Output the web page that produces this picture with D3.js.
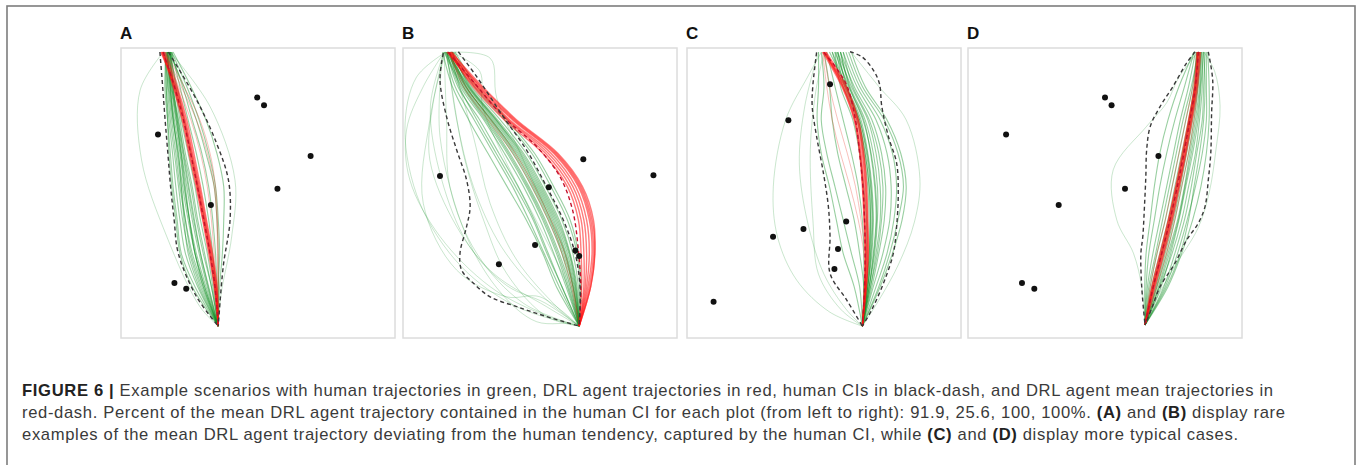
<!DOCTYPE html>
<html>
<head>
<meta charset="utf-8">
<script src="https://cdn.jsdelivr.net/npm/d3@7"></script>
<style>
  html, body { margin: 0; padding: 0; background: #fff; }
  svg { display: block; }
</style>
</head>
<body>
<div id="chart"></div>
<script>
// ---- data (panel coordinates: 0..100 across, 0..100 top to bottom) ----
const panelLabels = ["A", "B", "C", "D"];
const levels = [13.3, 24.8, 36.3, 47.8, 59.3, 70.8, 82.3];   // rows used by the trajectory tables
const startY = 1.4;

const goalA = [35.5, 95.9];
const goalB = [64.3, 95.9];
const goalC = [64.0, 95.9];
const goalD = [64.6, 95.5];

const obstaclesA = [[49.7, 17.1], [52.2, 19.7], [13.5, 29.8], [69.2, 37.2], [57.1, 48.5], [32.8, 54.1], [19.5, 81.0], [23.8, 83.0]];
const obstaclesB = [[13.5, 44.1], [65.8, 38.4], [91.4, 43.9], [53.2, 48.0], [48.2, 67.9], [35.0, 74.6], [62.9, 69.8], [64.3, 71.7]];
const obstaclesC = [[52.2, 12.5], [37.0, 24.9], [58.1, 59.8], [42.5, 62.4], [31.4, 65.1], [55.1, 69.3], [53.8, 76.2], [9.7, 87.5]];
const obstaclesD = [[50.0, 17.1], [52.4, 19.7], [13.9, 29.8], [69.5, 37.2], [57.3, 48.5], [33.1, 54.1], [19.7, 81.0], [24.2, 83.0]];

// human trajectories: [start x, x at each level]
const humanA = [
  [16.5, 16.0, 17.0, 18.0, 19.0, 20.5, 22.0, 27.0],
  [17.0, 16.5, 17.5, 18.8, 20.0, 21.5, 23.5, 28.0],
  [17.5, 17.0, 18.0, 19.5, 21.0, 22.5, 25.0, 29.0],
  [16.0, 17.2, 18.5, 20.0, 21.5, 23.5, 26.0, 30.0],
  [17.0, 17.5, 19.0, 20.8, 22.5, 24.5, 27.0, 30.5],
  [18.0, 18.0, 19.5, 21.5, 23.0, 25.0, 27.5, 31.0],
  [16.5, 18.2, 20.0, 22.0, 24.0, 26.0, 28.5, 31.5],
  [17.5, 18.5, 20.5, 22.5, 24.5, 26.5, 29.0, 32.0],
  [18.5, 19.0, 21.0, 23.0, 25.5, 27.5, 30.0, 33.0],
  [17.0, 19.5, 21.5, 23.5, 26.0, 28.0, 30.5, 33.0],
  [18.0, 20.0, 22.0, 24.5, 27.0, 29.0, 31.5, 33.5],
  [17.5, 20.5, 23.0, 25.5, 28.0, 30.5, 32.5, 34.0],
  [18.5, 21.5, 24.5, 27.5, 30.0, 32.0, 33.5, 34.5],
  [18.0, 22.5, 26.0, 29.5, 32.0, 33.5, 34.5, 35.0],
  [18.5, 24.0, 28.5, 32.0, 34.5, 35.5, 36.0, 35.5],
  [17.0, 18.0, 19.0, 21.0, 22.0, 23.0, 24.5, 28.5],
  [16.0, 16.5, 17.0, 17.5, 18.5, 20.0, 21.5, 26.0],
  [18.0, 19.0, 20.5, 22.0, 23.5, 25.0, 27.0, 30.0],
  [17.5, 23.0, 27.5, 31.0, 34.0, 35.0, 35.5, 35.5],
  [19.0, 25.5, 31.0, 35.0, 37.5, 37.5, 37.0, 36.0],
  [17.0, 17.8, 19.2, 20.5, 22.0, 23.5, 25.5, 29.5],
  [16.5, 18.5, 20.2, 21.8, 23.2, 25.0, 27.0, 30.5],
  [17.8, 18.8, 20.8, 22.8, 24.8, 26.8, 29.0, 31.8]
];
const humanStrayA = [
  [[15.5, 1.4], [7.0, 14.5], [7.5, 38.6], [16.7, 65.0], [28.8, 89.2], [35.5, 95.9]],
  [[18.0, 1.4], [32.5, 20.2], [41.6, 45.5], [40.4, 65.0], [36.5, 85.0], [35.5, 95.9]]
];
const agentA = [
  [15.0, 19.0, 22.3, 24.8, 27.4, 29.8, 32.0, 34.0],
  [15.5, 19.3, 22.6, 25.1, 27.7, 30.0, 32.3, 34.2],
  [14.5, 19.6, 22.9, 25.5, 28.0, 30.3, 32.6, 34.4],
  [15.2, 19.8, 23.2, 25.8, 28.3, 30.6, 32.9, 34.6],
  [14.8, 20.1, 23.5, 26.1, 28.6, 30.9, 33.1, 34.8],
  [15.8, 20.5, 24.0, 26.6, 29.0, 31.2, 33.4, 35.0]
];
const agentStrayA = [
  [16.0, 22.0, 27.5, 31.5, 34.0, 35.0, 35.2, 35.3],
  [16.5, 23.0, 28.8, 32.5, 34.5, 35.2, 35.5, 35.5],
  [16.2, 21.0, 25.5, 29.0, 31.5, 33.0, 34.0, 35.0]
];
const meanA = [[15.4, 1.4], [19.5, 13.3], [22.8, 24.8], [25.4, 36.3], [27.9, 47.8], [30.2, 59.3], [32.5, 70.8], [34.3, 82.3], [35.5, 95.9]];
const ciLeftA = [[14.2, 1.4], [15.2, 13.3], [16.1, 24.8], [17.1, 36.3], [18.1, 47.8], [19.4, 59.3], [20.9, 70.8], [27.6, 85.8], [35.5, 95.9]];
const ciRightA = [[17.3, 1.4], [27.6, 17.9], [34.9, 32.9], [39.2, 45.5], [39.8, 59.3], [37.3, 75.4], [35.5, 95.9]];

const humanB = [
  [16.0, 20.0, 28.0, 35.0, 42.0, 48.0, 53.0, 58.0],
  [17.0, 21.0, 29.5, 37.0, 44.0, 50.0, 55.0, 59.5],
  [15.5, 22.0, 31.0, 39.0, 46.0, 52.0, 57.0, 61.0],
  [18.0, 23.0, 32.5, 41.0, 48.0, 54.0, 59.0, 62.0],
  [16.5, 24.0, 34.0, 43.0, 50.0, 56.0, 60.5, 63.0],
  [17.5, 25.0, 35.5, 45.0, 52.0, 58.0, 62.0, 64.0],
  [18.5, 26.0, 37.0, 47.0, 54.0, 60.0, 63.5, 64.5],
  [15.0, 21.5, 30.0, 38.0, 45.0, 51.0, 56.0, 60.0],
  [17.0, 22.5, 31.5, 40.0, 47.0, 53.0, 58.0, 61.5],
  [16.0, 23.5, 33.0, 42.0, 49.0, 55.0, 59.5, 62.5],
  [18.0, 24.5, 34.5, 44.0, 51.0, 57.0, 61.0, 63.5],
  [15.5, 19.0, 26.0, 33.0, 40.0, 46.0, 51.5, 57.0],
  [14.5, 18.0, 24.0, 31.0, 38.0, 45.0, 51.0, 56.0],
  [19.0, 27.0, 38.0, 48.0, 55.0, 61.0, 64.0, 65.0],
  [16.0, 20.5, 27.0, 34.0, 41.0, 47.5, 52.5, 58.0],
  [17.0, 22.0, 30.5, 38.5, 45.5, 51.5, 56.5, 60.5],
  [17.0, 23.0, 32.0, 40.5, 47.5, 53.5, 58.5, 62.0],
  [16.5, 23.8, 33.5, 42.5, 49.5, 55.5, 60.0, 62.8],
  [18.0, 24.2, 34.0, 43.5, 50.5, 56.5, 60.8, 63.2],
  [16.0, 22.8, 32.2, 41.5, 48.5, 54.5, 59.2, 62.2]
];
const humanStrayB = [
  [[15.0, 1.5], [7.4, 13.3], [1.3, 28.2], [2.5, 45.5], [13.5, 65.0], [31.8, 82.3], [50.0, 91.5], [64.3, 95.9]],
  [[15.5, 1.5], [11.0, 19.0], [9.8, 38.6], [19.6, 61.6], [33.0, 77.7], [52.4, 89.2], [64.3, 95.9]],
  [[17.0, 1.5], [31.8, 3.5], [34.2, 17.2], [43.9, 38.6], [56.1, 65.0], [64.3, 95.9]],
  [[15.0, 1.5], [15.9, 24.8], [17.1, 47.8], [26.9, 70.8], [43.9, 88.0], [64.3, 95.9]],
  [[16.0, 1.5], [22.0, 36.3], [29.4, 59.3], [37.8, 77.7], [52.4, 92.6], [64.3, 95.9]],
  [[14.5, 1.5], [13.5, 30.5], [23.2, 65.0], [35.9, 84.6], [48.8, 94.4], [63.0, 95.0], [64.3, 95.9]],
  [[17.0, 1.5], [25.7, 30.5], [31.8, 53.6], [41.5, 73.1], [56.1, 89.2], [64.3, 95.9]],
  [[15.0, 1.5], [9.8, 24.8], [7.4, 53.6], [19.6, 76.6], [37.8, 85.8], [50.0, 85.8], [64.3, 95.9]],
  [[16.0, 1.5], [19.6, 24.8], [25.7, 47.8], [35.9, 68.5], [51.2, 85.8], [64.3, 95.9]],
  [[15.5, 1.5], [4.9, 10.1], [0.7, 28.2], [6.2, 53.6], [21.3, 75.4], [41.5, 89.2], [64.3, 95.9]],
  [[18.0, 1.5], [28.0, 8.0], [29.0, 20.0], [38.0, 40.0], [50.0, 62.0], [60.0, 82.0], [64.3, 95.9]],
  [[15.0, 1.5], [10.0, 20.0], [14.0, 45.0], [24.0, 68.0], [38.0, 82.0], [52.0, 88.0], [64.3, 95.9]]
];
const agentB = [
  [17.0, 25.5, 37.0, 51.0, 60.0, 64.0, 65.0, 65.2],
  [16.5, 26.0, 38.0, 52.0, 61.0, 65.0, 66.0, 66.0],
  [17.5, 26.5, 38.5, 53.0, 62.0, 66.0, 67.0, 66.5],
  [16.0, 27.0, 39.0, 54.0, 63.0, 67.0, 68.0, 67.0],
  [17.0, 27.5, 40.0, 55.0, 64.0, 68.0, 69.0, 67.5],
  [18.0, 28.0, 40.5, 55.5, 64.5, 68.5, 69.5, 68.0],
  [16.5, 28.5, 41.0, 56.0, 65.0, 69.0, 70.0, 68.5],
  [17.5, 29.0, 41.5, 56.5, 65.5, 69.5, 70.0, 68.5]
];
const agentStrayB = [
  [17.0, 22.0, 31.0, 40.0, 47.0, 53.0, 58.0, 61.5],
  [16.5, 23.0, 32.0, 41.0, 48.0, 54.0, 59.0, 62.0]
];
const meanB = [[16.5, 1.5], [26.0, 12.0], [36.6, 23.7], [48.8, 34.0], [57.3, 44.4], [61.9, 55.9], [64.0, 69.7], [64.9, 83.4], [64.3, 95.9]];
const ciLeftB = [[14.7, 1.8], [13.5, 11.0], [15.9, 23.7], [19.6, 35.2], [23.2, 45.5], [24.5, 54.7], [23.2, 61.6], [20.8, 70.8], [21.4, 76.6], [25.7, 81.1], [31.8, 85.8], [41.5, 89.2], [52.4, 92.6], [64.3, 95.9]];
const ciRightB = [[20.2, 1.3], [26.9, 9.9], [36.6, 23.7], [45.1, 35.2], [52.4, 47.8], [58.5, 59.3], [62.8, 70.8], [64.6, 82.3], [64.3, 95.9]];

const humanC = [
  [52.0, 58.0, 63.0, 65.5, 67.0, 67.5, 67.0, 66.0],
  [54.0, 59.0, 64.5, 67.0, 68.5, 69.0, 68.0, 66.5],
  [55.0, 60.0, 66.0, 69.0, 70.5, 70.5, 69.0, 67.0],
  [56.0, 61.0, 67.5, 71.0, 72.5, 72.0, 70.0, 67.5],
  [57.0, 62.0, 69.0, 73.0, 74.5, 74.0, 71.5, 68.0],
  [58.0, 63.0, 70.5, 75.0, 76.5, 75.5, 73.0, 69.0],
  [53.0, 57.0, 62.0, 64.5, 66.0, 66.5, 66.5, 65.5],
  [55.0, 58.5, 63.5, 66.0, 67.5, 68.0, 67.5, 66.0],
  [57.0, 60.5, 66.5, 70.0, 71.5, 71.0, 69.5, 67.0],
  [59.0, 64.0, 72.0, 77.0, 79.0, 77.0, 74.0, 70.0],
  [50.0, 52.0, 53.0, 55.0, 58.0, 61.0, 63.0, 64.5],
  [49.0, 50.0, 49.0, 51.0, 54.0, 57.0, 60.0, 63.0],
  [48.0, 48.0, 47.5, 49.0, 52.0, 54.5, 57.0, 61.0],
  [54.0, 56.0, 60.5, 63.0, 64.5, 65.5, 65.5, 65.0],
  [56.0, 59.5, 65.0, 68.0, 69.5, 69.5, 68.5, 66.5],
  [53.0, 58.0, 62.5, 65.0, 66.5, 67.0, 66.5, 65.5],
  [60.0, 65.0, 73.0, 78.0, 80.0, 78.5, 75.0, 70.5],
  [51.0, 54.0, 57.0, 60.0, 62.5, 64.0, 64.5, 64.5],
  [55.0, 58.2, 63.0, 65.8, 67.2, 67.8, 67.2, 66.0],
  [56.0, 59.2, 64.2, 67.2, 68.8, 69.2, 68.2, 66.5],
  [54.5, 57.5, 62.5, 65.0, 66.5, 67.0, 66.8, 65.8]
];
const humanStrayC = [
  [[49.0, 1.5], [44.0, 10.0], [36.0, 24.8], [31.5, 47.8], [33.0, 65.0], [40.0, 80.0], [52.0, 91.0], [64.0, 95.9]],
  [[60.0, 1.5], [70.0, 13.3], [80.0, 24.8], [85.0, 45.0], [83.0, 60.0], [77.0, 75.0], [70.0, 87.0], [64.0, 95.9]],
  [[48.0, 1.5], [43.0, 20.0], [41.0, 40.0], [44.0, 60.0], [50.0, 78.0], [58.0, 90.0], [64.0, 95.9]],
  [[50.0, 1.5], [47.0, 15.0], [45.0, 35.0], [46.0, 60.0], [48.0, 78.0], [56.0, 90.0], [64.0, 95.9]]
];
const agentC = [
  [49.5, 56.5, 61.0, 63.0, 64.0, 64.6, 65.0, 64.8],
  [50.0, 57.0, 61.5, 63.5, 64.5, 65.0, 65.4, 65.0],
  [50.5, 57.5, 62.0, 64.0, 65.0, 65.5, 65.8, 65.2],
  [49.8, 57.8, 62.3, 64.3, 65.3, 65.8, 66.0, 65.4],
  [50.2, 56.8, 61.2, 63.2, 64.2, 64.8, 65.2, 64.9],
  [50.8, 58.2, 62.6, 64.6, 65.6, 66.0, 66.2, 65.5]
];
const agentStrayC = [
  [49.5, 51.0, 53.0, 56.0, 59.5, 62.5, 64.5, 65.0],
  [50.0, 52.0, 55.0, 58.5, 61.5, 63.5, 65.0, 65.0]
];
const meanC = [[50.0, 1.5], [55.0, 7.6], [58.5, 13.3], [61.5, 24.8], [63.0, 36.3], [64.2, 47.8], [64.8, 59.3], [65.0, 70.8], [64.8, 82.3], [64.0, 95.9]];
const ciLeftC = [[47.3, 1.5], [45.9, 13.3], [45.7, 20.2], [47.3, 30.5], [49.8, 43.2], [51.6, 54.7], [52.2, 65.0], [52.2, 77.7], [58.3, 86.9], [64.0, 95.9]];
const ciRightC = [[59.5, 1.3], [63.8, 3.0], [68.0, 7.6], [70.2, 12.2], [71.1, 20.2], [73.5, 30.5], [76.5, 39.7], [77.1, 50.1], [76.5, 61.6], [75.3, 70.8], [71.7, 81.1], [67.4, 90.3], [64.0, 95.9]];

const humanD = [
  [84.0, 83.0, 81.0, 78.5, 76.0, 73.5, 70.5, 67.5],
  [85.0, 84.0, 82.5, 80.5, 78.0, 75.5, 72.5, 69.0],
  [86.0, 85.0, 84.0, 82.0, 79.5, 77.0, 74.0, 70.5],
  [86.5, 86.0, 85.5, 83.5, 81.5, 79.0, 75.5, 71.5],
  [87.0, 87.0, 87.0, 85.5, 83.0, 80.0, 76.5, 72.0],
  [83.5, 82.0, 79.5, 77.0, 74.5, 72.0, 69.0, 66.5],
  [83.0, 80.5, 77.5, 75.0, 72.5, 70.0, 67.5, 65.5],
  [82.5, 79.0, 75.5, 72.5, 70.0, 68.0, 66.0, 65.0],
  [84.5, 83.5, 81.5, 79.5, 77.0, 74.5, 71.5, 68.5],
  [85.5, 85.5, 84.5, 83.0, 80.5, 78.0, 74.5, 70.0],
  [84.0, 81.5, 78.5, 76.0, 73.5, 71.0, 68.5, 66.0],
  [82.5, 77.0, 73.0, 70.0, 68.0, 66.5, 65.0, 64.5],
  [87.5, 88.0, 88.0, 87.0, 85.0, 82.0, 78.0, 73.0],
  [85.0, 84.5, 83.0, 81.0, 79.0, 76.5, 73.0, 69.5],
  [83.5, 82.5, 80.5, 78.0, 75.5, 73.0, 70.0, 67.0],
  [86.0, 86.5, 86.0, 84.5, 82.5, 80.5, 77.5, 72.5],
  [84.5, 83.8, 82.0, 79.8, 77.5, 75.0, 72.0, 68.8],
  [85.2, 84.8, 83.5, 81.5, 79.2, 76.8, 73.5, 69.8],
  [83.8, 82.8, 80.8, 78.5, 76.2, 73.8, 70.8, 67.8]
];
const humanStrayD = [
  [[84.0, 1.3], [77.0, 10.0], [72.5, 18.9], [65.2, 27.0], [53.0, 42.0], [54.3, 59.3], [60.4, 70.8], [63.4, 82.3], [64.6, 95.5]],
  [[86.0, 1.3], [90.0, 8.0], [92.0, 20.0], [90.5, 35.0], [88.0, 50.0], [84.0, 62.0], [75.0, 76.0], [68.0, 88.0], [64.6, 95.5]]
];
const agentD = [
  [84.0, 83.0, 81.0, 78.8, 76.4, 73.7, 70.7, 67.6],
  [83.5, 82.6, 80.5, 78.2, 75.8, 73.1, 70.1, 67.1],
  [84.5, 83.4, 81.5, 79.3, 76.9, 74.2, 71.2, 68.0],
  [84.2, 82.8, 80.7, 78.5, 76.0, 73.3, 70.4, 67.3],
  [83.8, 83.2, 81.3, 79.1, 76.7, 74.0, 71.0, 67.8],
  [84.8, 83.7, 81.8, 79.6, 77.2, 74.6, 71.6, 68.3]
];
const agentStrayD = [
  [84.0, 82.0, 79.5, 77.0, 74.5, 72.0, 69.0, 66.5],
  [85.0, 84.0, 82.5, 80.5, 78.0, 75.5, 72.5, 69.0]
];
const meanD = [[84.1, 1.3], [83.0, 13.3], [81.0, 24.8], [78.8, 36.3], [76.4, 47.8], [73.7, 59.3], [70.7, 70.8], [67.6, 82.3], [64.6, 95.5]];
const ciLeftD = [[82.9, 1.3], [79.7, 5.3], [74.8, 13.3], [70.1, 20.2], [66.5, 27.1], [65.2, 35.2], [64.9, 44.4], [64.4, 54.7], [63.8, 65.0], [63.1, 70.8], [63.4, 82.3], [64.6, 95.5]];
const ciRightD = [[87.7, 1.3], [89.3, 11.0], [88.9, 22.5], [88.6, 36.3], [87.7, 45.5], [86.5, 54.7], [84.0, 60.5], [79.8, 66.2], [75.5, 74.3], [70.1, 82.3], [67.3, 89.2], [64.6, 95.5]];

const captionLines = [
  [["FIGURE 6 | ", true], ["Example scenarios with human trajectories in green, DRL agent trajectories in red, human CIs in black-dash, and DRL agent mean trajectories in", false]],
  [["red-dash. Percent of the mean DRL agent trajectory contained in the human CI for each plot (from left to right): 91.9, 25.6, 100, 100%. ", false], ["(A)", true], [" and ", false], ["(B)", true], [" display rare", false]],
  [["examples of the mean DRL agent trajectory deviating from the human tendency, captured by the human CI, while ", false], ["(C)", true], [" and ", false], ["(D)", true], [" display more typical cases.", false]]
];

const panels = [
  { goal: goalA, human: humanA, humanStray: humanStrayA, agent: agentA, agentStray: agentStrayA, mean: meanA, ciLeft: ciLeftA, ciRight: ciRightA, obstacles: obstaclesA },
  { goal: goalB, human: humanB, humanStray: humanStrayB, agent: agentB, agentStray: agentStrayB, mean: meanB, ciLeft: ciLeftB, ciRight: ciRightB, obstacles: obstaclesB },
  { goal: goalC, human: humanC, humanStray: humanStrayC, agent: agentC, agentStray: agentStrayC, mean: meanC, ciLeft: ciLeftC, ciRight: ciRightC, obstacles: obstaclesC },
  { goal: goalD, human: humanD, humanStray: humanStrayD, agent: agentD, agentStray: agentStrayD, mean: meanD, ciLeft: ciLeftD, ciRight: ciRightD, obstacles: obstaclesD }
];

// ---- layout ----
const W = 1357, H = 465;
const panelX = [121, 403, 687, 968];
const panelTop = 48, panelW = 274, panelH = 290;
const font = "'Liberation Sans', Arial, Helvetica, sans-serif";

const svg = d3.select("#chart").append("svg")
  .attr("width", W)
  .attr("height", H);

svg.append("rect")
  .attr("x", 7).attr("y", 6)
  .attr("width", 1348).attr("height", H + 10)
  .style("fill", "none")
  .style("stroke", "#7d7d7d")
  .style("stroke-width", 1.6);

// turn a table row [startX, x@level...] into points ending at the goal
const rowPoints = (row, goal) => [[row[0], startY], ...row.slice(1).map((x, i) => [x, levels[i]]), goal];

panels.forEach((p, i) => {
  const x = d3.scaleLinear().domain([0, 100]).range([panelX[i], panelX[i] + panelW]);
  const y = d3.scaleLinear().domain([0, 100]).range([panelTop, panelTop + panelH]);
  const line = d3.line()
    .x((d) => x(d[0]))
    .y((d) => y(d[1]))
    .curve(d3.curveCatmullRom.alpha(0.5));

  const g = svg.append("g").attr("class", "panel");

  g.append("rect")
    .attr("x", panelX[i]).attr("y", panelTop)
    .attr("width", panelW).attr("height", panelH)
    .style("fill", "#fff")
    .style("stroke", "#dcdcdc")
    .style("stroke-width", 1.5);

  g.append("text")
    .attr("x", panelX[i] - 1)
    .attr("y", 39)
    .style("font-family", font)
    .style("font-size", "17px")
    .style("font-weight", "700")
    .style("fill", "#111")
    .text(panelLabels[i]);

  g.selectAll(".humanStray")
    .data(p.humanStray)
    .join("path")
    .attr("class", "humanStray")
    .attr("d", line)
    .style("fill", "none")
    .style("stroke", "#2a9d3a")
    .style("stroke-width", 1)
    .style("opacity", 0.25);

  g.selectAll(".human")
    .data(p.human.map((r) => rowPoints(r, p.goal)))
    .join("path")
    .attr("class", "human")
    .attr("d", line)
    .style("fill", "none")
    .style("stroke", "#0b8c1e")
    .style("stroke-width", 1.1)
    .style("opacity", 0.42);

  g.selectAll(".agentStray")
    .data(p.agentStray.map((r) => rowPoints(r, p.goal)))
    .join("path")
    .attr("class", "agentStray")
    .attr("d", line)
    .style("fill", "none")
    .style("stroke", "#e8301f")
    .style("stroke-width", 1)
    .style("opacity", 0.3);

  g.selectAll(".agent")
    .data(p.agent.map((r) => rowPoints(r, p.goal)))
    .join("path")
    .attr("class", "agent")
    .attr("d", line)
    .style("fill", "none")
    .style("stroke", "#ff1010")
    .style("stroke-width", 1.4)
    .style("opacity", 0.55);

  g.append("path")
    .datum(p.mean)
    .attr("d", line)
    .style("fill", "none")
    .style("stroke", "#c4102c")
    .style("stroke-width", 1.4)
    .style("stroke-dasharray", "4 3");

  g.selectAll(".ci")
    .data([p.ciLeft, p.ciRight])
    .join("path")
    .attr("class", "ci")
    .attr("d", line)
    .style("fill", "none")
    .style("stroke", "#3a3a3a")
    .style("stroke-width", 1.4)
    .style("stroke-dasharray", "4 3");

  g.selectAll(".obstacle")
    .data(p.obstacles)
    .join("circle")
    .attr("class", "obstacle")
    .attr("cx", (d) => x(d[0]))
    .attr("cy", (d) => y(d[1]))
    .attr("r", 3)
    .style("fill", "#111");
});

// ---- caption ----
const captionX = 22;
const captionY = [396, 418, 440];
const captionWidths = [1251, 1263, 1216];
const baseSize = 15;

captionLines.forEach((parts, i) => {
  const t = svg.append("text")
    .attr("x", captionX)
    .attr("y", captionY[i])
    .style("font-family", font)
    .style("font-size", baseSize + "px")
    .style("fill", "#3a3a3a");
  parts.forEach(([s, bold]) => {
    t.append("tspan")
      .style("font-weight", bold ? "700" : "400")
      .style("fill", bold ? "#222" : "#3a3a3a")
      .text(s);
  });
  // grow the font a little toward the measured line width, then fit exactly
  const natural = t.node().getComputedTextLength();
  const size = Math.min(16.6, baseSize * captionWidths[i] / natural);
  t.style("font-size", size + "px");
  const fitted = t.node().getComputedTextLength();
  if (Math.abs(fitted - captionWidths[i]) > 2) {
    t.attr("textLength", captionWidths[i]).attr("lengthAdjust", "spacing");
  }
});
</script>
</body>
</html>
